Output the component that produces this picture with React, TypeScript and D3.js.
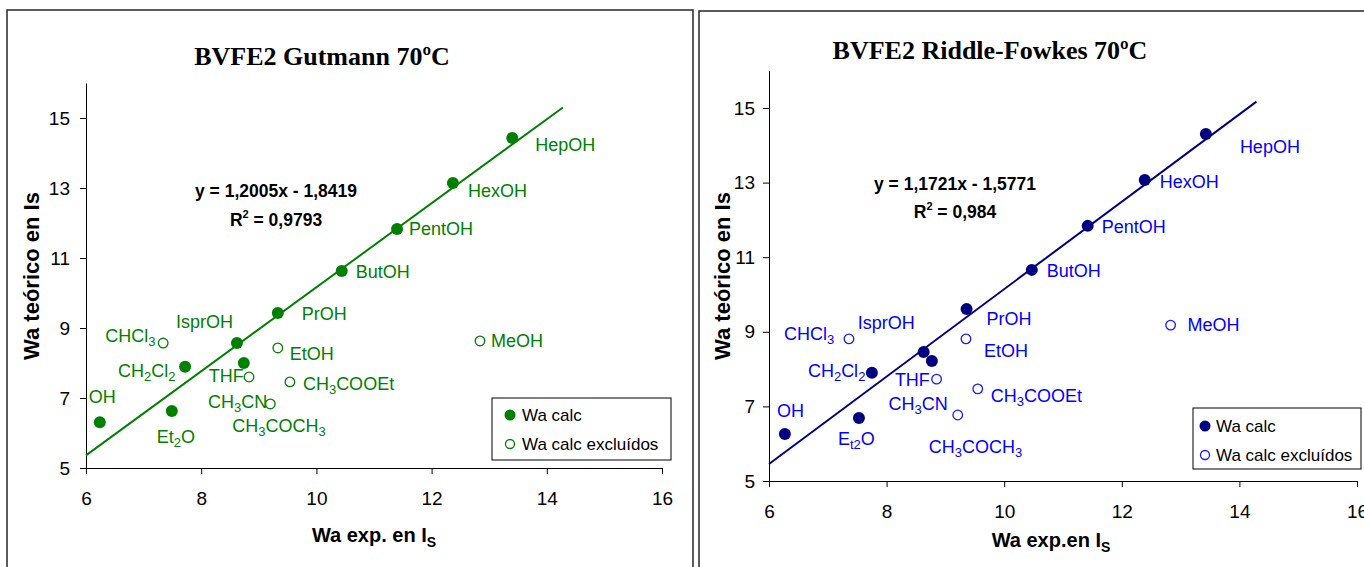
import React, { useEffect, useRef } from 'react';
import * as d3 from 'd3';

// axis ticks (both charts)
const xTicks = [6, 8, 10, 12, 14, 16];
const yTicks = [5, 7, 9, 11, 13, 15];

// Gutmann: included points (Wa calc)
const gutInclNames = ['OH', 'Et_{2}O', 'CH_{2}Cl_{2}', 'IsprOH', 'THF', 'PrOH', 'ButOH', 'PentOH', 'HexOH', 'HepOH'];
const gutInclX = [6.24, 7.49, 7.72, 8.62, 8.74, 9.33, 10.44, 11.4, 12.37, 13.4];
const gutInclY = [6.31, 6.63, 7.89, 8.57, 8.0, 9.43, 10.63, 11.83, 13.14, 14.43];
// Gutmann: excluded points (Wa calc excluídos)
const gutExclNames = ['CHCl_{3}', 'CH_{3}CN', 'EtOH', 'CH_{3}COOEt', 'CH_{3}COCH_{3}', 'MeOH'];
const gutExclX = [7.34, 8.83, 9.33, 9.54, 9.2, 12.84];
const gutExclY = [8.57, 7.6, 8.43, 7.46, 6.83, 8.63];
const gutFit = [1.2005, -1.8419];
const gutFitRange = [6, 14.28];

// Riddle-Fowkes: included points
const rfInclNames = ['OH', 'E_{t2}O', 'CH_{2}Cl_{2}', 'IsprOH', 'THF', 'PrOH', 'ButOH', 'PentOH', 'HexOH', 'HepOH'];
const rfInclX = [6.27, 7.53, 7.75, 8.63, 8.77, 9.36, 10.47, 11.42, 12.39, 13.43];
const rfInclY = [6.26, 6.69, 7.9, 8.46, 8.22, 9.61, 10.66, 11.84, 13.07, 14.3];
// Riddle-Fowkes: excluded points
const rfExclNames = ['CHCl_{3}', 'CH_{3}CN', 'EtOH', 'CH_{3}COOEt', 'CH_{3}COCH_{3}', 'MeOH'];
const rfExclX = [7.36, 8.85, 9.35, 9.55, 9.21, 12.83];
const rfExclY = [8.81, 7.73, 8.81, 7.47, 6.77, 9.18];
const rfFit = [1.1721, -1.5771];
const rfFitRange = [6, 14.29];

// label offsets from their point, in px (layout only)
const gutInclOff = [[-11, -19], [-15, 32], [-67, 10], [-61, -15], [-35, 19], [24, 7], [14, 7], [12, 6], [15, 14], [23, 13]];
const gutExclOff = [[-58, -1], [-41, 31], [12, 12], [13, 8], [-38, 28], [11, 6]];
const rfInclOff = [[-8, -17], [-21, 27], [-64, 4], [-66, -23], [-37, 25], [20, 16], [15, 7], [14, 7], [15, 8], [34, 19]];
const rfExclOff = [[-65, 1], [-48, 31], [18, 18], [13, 13], [-29, 38], [17, 6]];

const SANS = 'Liberation Sans, Arial, sans-serif';
const SERIF = 'Liberation Serif, Times New Roman, serif';

// text with _{..} parts drawn as subscripts
function rich(s: string, subSize: number, shiftPx: number) {
  const parts = s.split(/(_\{[^}]*\})/).filter((p) => p.length);
  let shift = 0;
  return parts.map((p, i) => {
    if (p.startsWith('_{')) {
      const dy = shiftPx - shift;
      shift = shiftPx;
      return <tspan key={i} dy={dy} fontSize={subSize}>{p.slice(2, -1)}</tspan>;
    }
    const dy = -shift;
    shift = 0;
    return <tspan key={i} dy={dy}>{p}</tspan>;
  });
}

function Chart({ cfg }: { cfg: any }) {
  const xAxisRef = useRef<SVGGElement>(null);
  const yAxisRef = useRef<SVGGElement>(null);

  const x = d3.scaleLinear().domain([6, 16]).range([cfg.plot.x0, cfg.plot.x1]);
  const y = d3.scaleLinear().domain([5, 16]).range([cfg.plot.y0, cfg.plot.y1]);

  useEffect(() => {
    const gx = d3.select(xAxisRef.current);
    gx.call(d3.axisBottom(x).tickValues(xTicks).tickSize(6).tickSizeOuter(0).tickPadding(17.5) as any);
    gx.attr('font-size', 19).attr('font-family', SANS);
    gx.selectAll('text').attr('fill', '#000');

    const gy = d3.select(yAxisRef.current);
    gy.call(d3.axisLeft(y).tickValues(yTicks).tickSize(6).tickSizeOuter(0).tickPadding(cfg.yPad) as any);
    gy.attr('font-size', 19).attr('font-family', SANS);
    gy.selectAll('text').attr('fill', '#000');
  }, []);

  const line = d3.line<number>()
    .x((v) => x(v))
    .y((v) => y(cfg.fit[0] * v + cfg.fit[1]));

  const lg = cfg.legend;

  return (
    <g>
      <rect x={cfg.frame.x} y={cfg.frame.y} width={cfg.frame.w} height={700}
        fill="none" stroke="#333" strokeWidth={1.6} />
      <text x={cfg.title.x} y={cfg.title.y} textAnchor="middle" fontFamily={SERIF}
        fontWeight="bold" fontSize={26}>{cfg.titleText}</text>

      <g ref={xAxisRef} transform={`translate(0,${cfg.plot.y0})`} />
      <g ref={yAxisRef} transform={`translate(${cfg.plot.x0},0)`} />

      <path d={line(cfg.fitRange) || ''} fill="none" stroke={cfg.lineColor} strokeWidth={2} />

      {cfg.inclX.map((v: number, i: number) => (
        <circle key={'i' + i} cx={x(v)} cy={y(cfg.inclY[i])} r={6} fill={cfg.lineColor} />
      ))}
      {cfg.exclX.map((v: number, i: number) => (
        <circle key={'e' + i} cx={x(v)} cy={y(cfg.exclY[i])} r={4.8} fill="#fff"
          stroke={cfg.hollowColor} strokeWidth={1.3} />
      ))}

      <g fontFamily={SANS} fontSize={18} fill={cfg.labelColor}>
        {cfg.inclNames.map((n: string, i: number) => (
          <text key={'li' + i} x={x(cfg.inclX[i]) + cfg.inclOff[i][0]} y={y(cfg.inclY[i]) + cfg.inclOff[i][1]}>
            {rich(n, 13, 4)}
          </text>
        ))}
        {cfg.exclNames.map((n: string, i: number) => (
          <text key={'le' + i} x={x(cfg.exclX[i]) + cfg.exclOff[i][0]} y={y(cfg.exclY[i]) + cfg.exclOff[i][1]}>
            {rich(n, 13, 4)}
          </text>
        ))}
      </g>

      <g fontFamily={SANS} fontWeight="bold" fontSize={17.5} textAnchor="middle">
        <text x={cfg.eq.x} y={cfg.eq.y1}>{cfg.eqText}</text>
        <text x={cfg.eq.x} y={cfg.eq.y2}>
          R<tspan dy={-8} fontSize={11}>2</tspan><tspan dy={8}>{' = ' + cfg.r2}</tspan>
        </text>
      </g>

      <text transform={`translate(${cfg.ytitle.x},${cfg.ytitle.y}) rotate(-90)`} textAnchor="middle"
        fontFamily={SANS} fontWeight="bold" fontSize={22}>Wa teórico en Is</text>
      <text x={cfg.xtitle.x} y={cfg.xtitle.y} textAnchor="middle" fontFamily={SANS}
        fontWeight="bold" fontSize={20}>{rich(cfg.xtitleText, 14, 5)}</text>

      <rect x={lg.x} y={lg.y} width={lg.w} height={lg.h} fill="#fff" stroke="#000" strokeWidth={1} />
      <circle cx={lg.x + lg.cdx} cy={lg.y + lg.c1} r={5.5} fill={cfg.lineColor} />
      <circle cx={lg.x + lg.cdx} cy={lg.y + lg.c2} r={4.5} fill="#fff" stroke={cfg.hollowColor} strokeWidth={1.3} />
      <g fontFamily={SANS} fontSize={17}>
        <text x={lg.x + lg.tdx} y={lg.y + lg.c1 + 6}>Wa calc</text>
        <text x={lg.x + lg.tdx} y={lg.y + lg.c2 + 6}>Wa calc excluídos</text>
      </g>
    </g>
  );
}

const gutCfg = {
  titleText: 'BVFE2 Gutmann 70ºC',
  eqText: 'y = 1,2005x - 1,8419',
  r2: '0,9793',
  xtitleText: 'Wa exp. en I_{S}',
  inclNames: gutInclNames, inclX: gutInclX, inclY: gutInclY, inclOff: gutInclOff,
  exclNames: gutExclNames, exclX: gutExclX, exclY: gutExclY, exclOff: gutExclOff,
  fit: gutFit, fitRange: gutFitRange,
  lineColor: '#008000', hollowColor: '#008000', labelColor: '#008000',
  frame: { x: 7, y: 10, w: 686 },
  plot: { x0: 86, x1: 662, y0: 468, y1: 83 },
  yPad: 10,
  title: { x: 322, y: 65 },
  eq: { x: 276, y1: 197, y2: 226 },
  ytitle: { x: 39, y: 276 },
  xtitle: { x: 374, y: 542 },
  legend: { x: 492, y: 398, w: 179, h: 62, cdx: 18, c1: 17, c2: 46, tdx: 30 },
};

const rfCfg = {
  titleText: 'BVFE2 Riddle-Fowkes 70ºC',
  eqText: 'y = 1,1721x - 1,5771',
  r2: '0,984',
  xtitleText: 'Wa exp.en I_{S}',
  inclNames: rfInclNames, inclX: rfInclX, inclY: rfInclY, inclOff: rfInclOff,
  exclNames: rfExclNames, exclX: rfExclX, exclY: rfExclY, exclOff: rfExclOff,
  fit: rfFit, fitRange: rfFitRange,
  lineColor: '#000080', hollowColor: '#1a1aff', labelColor: '#0000ff',
  frame: { x: 699, y: 11, w: 700 },
  plot: { x0: 769, x1: 1357, y0: 481, y1: 70.7 },
  yPad: 8,
  title: { x: 990, y: 59 },
  eq: { x: 955, y1: 190, y2: 218 },
  ytitle: { x: 730, y: 276 },
  xtitle: { x: 1051, y: 547 },
  legend: { x: 1193, y: 408, w: 168, h: 61, cdx: 12, c1: 18, c2: 47, tdx: 23 },
};

export default function App() {
  return (
    <svg width={1364} height={567} style={{ position: 'absolute', left: 0, top: 0, background: '#fff' }}>
      <Chart cfg={gutCfg} />
      <Chart cfg={rfCfg} />
    </svg>
  );
}
